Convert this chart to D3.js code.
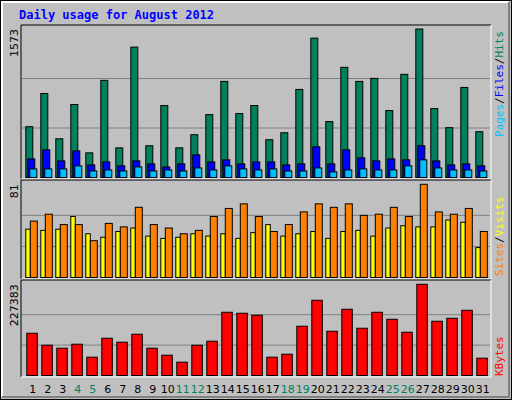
<!DOCTYPE html>
<html><head><meta charset="utf-8">
<script src="https://cdn.jsdelivr.net/npm/d3@7"></script>
<style>body{margin:0;background:#fff}</style>
</head><body>
<script>
// values
const days = d3.range(1, 32);
const weekend = [4, 5, 11, 12, 18, 19, 25, 26];
const hits = [538,890,410,773,261,1029,314,1381,336,762,314,453,666,1018,677,762,400,474,933,1476,592,1167,1018,1050,709,1093,1573,730,528,954,485];
const files = [197,293,176,282,133,165,123,176,144,112,144,240,165,187,144,165,165,133,144,325,144,293,208,176,197,187,336,176,133,144,123];
const pages = [91,91,91,123,69,80,69,112,69,80,69,101,80,123,91,80,91,69,69,101,59,80,91,80,80,123,187,101,80,80,69];
const visits = [49,55,46,46,32,47,44,61,46,43,38,41,53,60,64,53,40,46,57,64,61,64,54,55,61,53,81,57,55,60,40];
const sites = [42,41,42,53,38,35,40,43,36,34,35,38,36,38,34,39,46,36,38,40,34,40,41,36,43,45,44,44,50,48,26];
const kbytes = [105397,75521,68052,78010,45645,92949,82990,102908,68052,50624,33196,75521,85480,157681,155191,150212,45645,53114,122825,187557,110377,165150,117846,157681,140253,107887,227383,135274,142743,162660,43155];

const W = 512, H = 400;
const svg = d3.select("body").append("svg").attr("width", W).attr("height", H)
  .style("font-family", "DejaVu Sans Mono, monospace");

svg.append("rect").attr("x", 0).attr("y", 0).attr("width", W).attr("height", H).attr("fill", "#c0c0c0");
svg.append("rect").attr("x", 0.5).attr("y", 0.5).attr("width", W - 1).attr("height", H - 1).attr("fill", "none").attr("stroke", "#000");
svg.append("path").attr("d", "M2,397V2H509").attr("fill", "none").attr("stroke", "#fff").attr("stroke-width", 2);
svg.append("path").attr("d", "M2,397H509V2").attr("fill", "none").attr("stroke", "#808080").attr("stroke-width", 2);

svg.append("text").attr("x", 19).attr("y", 19).attr("fill", "#0000ff")
  .attr("font-weight", "bold").attr("font-size", 12).text("Daily usage for August 2012");

const x = d3.scaleBand().domain(days).range([20.3, 485.3]).paddingInner(0);

function panel(y0, y1, top, max) {
  svg.append("path").attr("d", `M21,${y1}V${y0}H491`).attr("fill", "none").attr("stroke", "#000");
  svg.append("path").attr("d", `M21,${y1}H491V${y0}`).attr("fill", "none").attr("stroke", "#fff");
  const y = d3.scaleLinear().domain([0, max]).range([y1 - 1.5, top]);
  [1 / 3, 2 / 3].forEach(f => {
    svg.append("line").attr("x1", 22).attr("x2", 490).attr("y1", y(max * f)).attr("y2", y(max * f))
      .attr("stroke", "#808080");
  });
  svg.append("text").attr("transform", `translate(18,${top}) rotate(-90)`).attr("text-anchor", "end")
    .attr("font-size", 11).attr("fill", "#000").style("font-family", "DejaVu Sans, sans-serif").text(max);
  return y;
}

function bars(y, vals, dx, w, color) {
  svg.append("g").selectAll("rect").data(vals).join("rect")
    .attr("x", (d, i) => x(days[i]) + dx + 0.5)
    .attr("y", d => y(d))
    .attr("width", w)
    .attr("height", d => y(0) - y(d))
    .attr("fill", color).attr("stroke", "#000");
}

function legend(cx, yb, parts) {
  const t = svg.append("text").attr("transform", `translate(${cx},${yb}) rotate(-90)`)
    .attr("font-size", 11).style("font-family", "DejaVu Sans Mono, monospace");
  parts.forEach(p => t.append("tspan").attr("fill", p[1]).text(p[0]));
}

const y1 = panel(25, 179, 29, 1573);
bars(y1, hits, 5, 7, "#00805c");
bars(y1, files, 7, 7, "#0000ff");
bars(y1, pages, 9, 7, "#00c0ff");
legend(503, 137, [["Pages", "#00c0ff"], ["/", "#000"], ["Files", "#0000ff"], ["/", "#000"], ["Hits", "#00805c"]]);

const y2 = panel(180, 279, 184.3, 81);
bars(y2, sites, 5, 4.5, "#ffff00");
bars(y2, visits, 9.5, 7, "#ff8000");
legend(503, 276, [["Sites", "#ff8000"], ["/", "#000"], ["Visits", "#ffff00"]]);

const y3 = panel(280, 377, 284.3, 227383);
bars(y3, kbytes, 6, 10.5, "#ff0000");
legend(503, 376, [["KBytes", "#ff0000"]]);

svg.append("g").selectAll("text").data(days).join("text")
  .attr("x", d => x(d) + 12.5).attr("y", 393).attr("text-anchor", "middle")
  .attr("font-size", 11).style("font-family", "DejaVu Sans, sans-serif")
  .attr("fill", d => weekend.includes(d) ? "#00805c" : "#000")
  .text(d => d);
</script>
</body></html>
